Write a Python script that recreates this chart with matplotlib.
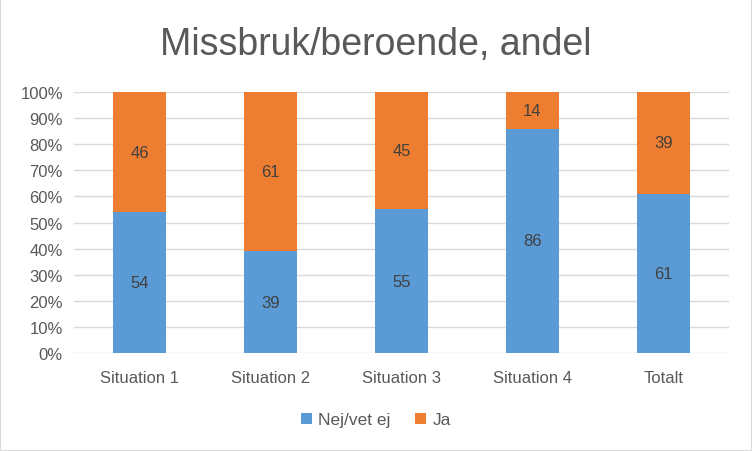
import matplotlib.pyplot as plt
import numpy as np

categories = ["Situation 1", "Situation 2", "Situation 3", "Situation 4", "Totalt"]
nej = [54, 39, 55, 86, 61]
ja = [46, 61, 45, 14, 39]

plt.rcParams['font.family'] = ['Liberation Sans', 'DejaVu Sans']

fig = plt.figure(figsize=(7.52, 4.52), dpi=100)
ax = fig.add_axes([74/752, 1 - 354/452, 655/752, 261/452])

x = np.arange(len(categories))
blue = '#5b9bd5'
orange = '#ed7d31'
b1 = ax.bar(x, nej, width=0.4, color=blue, label='Nej/vet ej', zorder=3)
b2 = ax.bar(x, ja, width=0.4, bottom=nej, color=orange, label='Ja', zorder=3)

for i in range(len(categories)):
    ax.text(x[i], nej[i] / 2, str(nej[i]), ha='center', va='center', fontsize=12, color='#404040', zorder=4)
    ax.text(x[i], nej[i] + ja[i] / 2, str(ja[i]), ha='center', va='center', fontsize=12, color='#404040', zorder=4)

ax.set_xlim(-0.5, len(categories) - 0.5)
ax.set_ylim(0, 100)
ax.set_yticks(range(0, 101, 10))
ax.set_yticklabels([f"{v}%" for v in range(0, 101, 10)])
ax.set_xticks(x)
ax.set_xticklabels(categories)
ax.tick_params(axis='both', length=0, labelsize=12, colors='#595959')
ax.tick_params(axis='x', pad=12)
ax.tick_params(axis='y', pad=8)
ax.grid(axis='y', color='#d9d9d9', linewidth=1, zorder=0)
for s in ax.spines.values():
    s.set_visible(False)

fig.text(376/752, 1 - 45/452, "Missbruk/beroende, andel", ha='center', va='center', fontsize=27, color='#595959')

fig.legend(handles=[b1, b2], loc='center', bbox_to_anchor=(376/752, 1 - 421/452), ncol=2, frameon=False,
           fontsize=12.5, labelcolor='#595959', handlelength=0.6, handleheight=0.6, handletextpad=0.4, columnspacing=1.4)

fig.patches.append(plt.Rectangle((0, 0), 1, 1, transform=fig.transFigure, fill=False, edgecolor='#d9d9d9', linewidth=1.5))

fig.savefig('out.png', dpi=100)
